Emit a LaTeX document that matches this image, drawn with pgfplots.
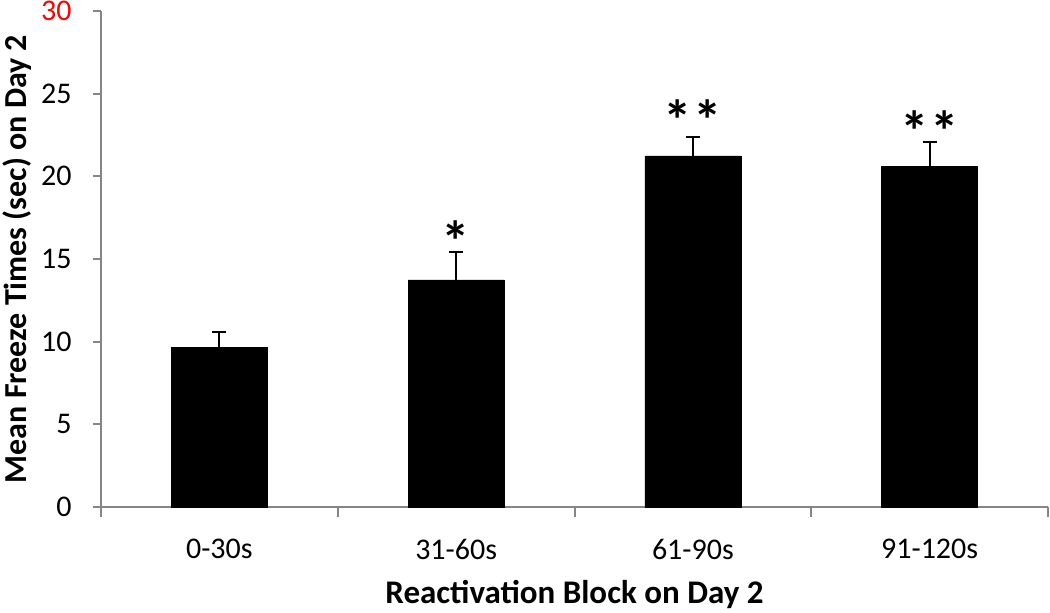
\documentclass[border=0pt]{standalone}
\usepackage{pgfplots}
\pgfplotsset{compat=1.18}
\usepackage{fontspec}
\setmainfont{Carlito}
\definecolor{axgray}{RGB}{134,134,134}
\begin{document}
\begin{tikzpicture}
\begin{axis}[
  scale only axis, width=947pt, height=496pt,
  xmin=-0.5, xmax=3.5, ymin=0, ymax=30,
  axis x line*=bottom, axis y line*=left,
  axis line style={axgray, line width=2pt},
  tick align=outside,
  major tick length=8pt,
  ytick={0,5,...,30},
  yticklabels={0,5,10,15,20,25,\textcolor{red}{30}},
  ytick style={axgray, line width=2pt},
  xtick={0,1,2,3},
  xticklabels={0-30s,31-60s,61-90s,91-120s},
  xtick style={draw=none},
  extra x ticks={-0.5,0.5,1.5,2.5,3.5},
  extra x tick labels={},
  extra x tick style={xtick style={draw=axgray, line width=2pt}, major tick length=10pt},
  /pgf/number format/assume math mode=true,
  yticklabel style={font=\fontsize{30}{34}\selectfont, anchor=east, xshift=-18pt},
  xticklabel style={font=\fontsize{30}{34}\selectfont, anchor=center, yshift=-34pt},
  xlabel={Reactivation Block on Day 2},
  ylabel={Mean Freeze Times (sec) on Day 2},
  xlabel style={font=\fontsize{33}{38}\selectfont\bfseries, at={(rel axis cs:0.5,0)}, anchor=center, yshift=-87pt},
  ylabel style={font=\fontsize{32}{38}\selectfont\bfseries, at={(rel axis cs:0,0.5)}, anchor=center, yshift=84pt},
  clip=false,
]
\addplot[ybar, bar width=96pt, fill=black, draw=black,
  error bars/.cd, y dir=plus, y explicit,
  error bar style={black, line width=2pt},
  error mark options={black, line width=2pt, mark size=7pt, rotate=90}]
  coordinates {(0,9.64) +- (0,0.93) (1,13.73) +- (0,1.70) (2,21.23) +- (0,1.17) (3,20.59) +- (0,1.47)};
\addplot[draw=none, mark=none, nodes near coords, point meta=explicit symbolic,
  every node near coord/.append style={anchor=center, yshift=-11pt, font=\fontsize{57}{57}\selectfont\bfseries}]
  coordinates {(1,16.76)[*] (2,24.08)[*\kern2pt*] (3,23.4)[*\kern2pt*]};
\end{axis}
\pgfresetboundingbox
\useasboundingbox (-101pt,-106pt) rectangle (949pt,507pt);
\end{tikzpicture}
\end{document}
